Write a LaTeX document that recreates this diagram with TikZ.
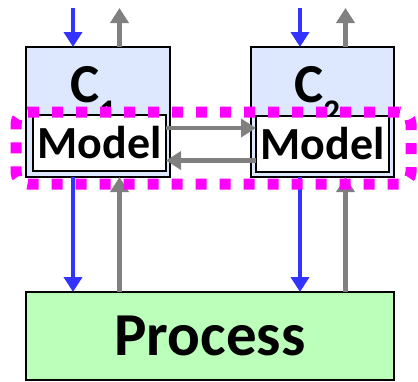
\documentclass[tikz,border=0pt]{standalone}
\usepackage{fontspec}
\setmainfont{Carlito}
\usetikzlibrary{arrows.meta}
\definecolor{ctrlfill}{HTML}{DDE8FF}
\definecolor{procfill}{HTML}{BBFFBB}
\definecolor{sigblue}{HTML}{3333FF}
\definecolor{siggray}{HTML}{808080}
\definecolor{grpmagenta}{HTML}{FF00FF}
\begin{document}
\begin{tikzpicture}[x=1pt,y=-1pt,
  box/.style={draw=black,line width=2pt,inner sep=0pt,outer sep=0pt},
  ctrl/.style={box,fill=ctrlfill,minimum width=144pt,minimum height=130pt},
  modelbox/.style={box,fill=white,minimum width=133pt,minimum height=56pt,
    font=\bfseries\fontsize{46}{46}\selectfont},
  procbox/.style={box,fill=procfill,minimum width=368pt,minimum height=88pt,
    font=\bfseries\fontsize{61}{61}\selectfont},
  ctrllabel/.style={anchor=base west,inner sep=0pt,
    font=\bfseries\fontsize{55}{55}\selectfont},
  flow/.style={line width=4.5pt,-{Triangle[length=15pt,width=18pt]}},
  cmd/.style={flow,draw=sigblue,fill=sigblue},
  meas/.style={flow,draw=siggray,fill=siggray},
  group/.style={draw=grpmagenta,line width=11pt,dash pattern=on 11pt off 13pt,
    rounded corners=12pt,minimum width=395pt,minimum height=72pt,inner sep=0pt}]
\useasboundingbox (0,0) rectangle (418,381);

% controllers
\node[ctrl] (C1) at (98,112) {};
\node[ctrl,minimum width=143pt] (C2) at (322.5,112) {};
\node[ctrllabel] (L1) at (70,102) {C\raisebox{-20pt}{\fontsize{33}{33}\selectfont 1}};
\node[ctrllabel] (L2) at (294,102) {C\raisebox{-20pt}{\fontsize{33}{33}\selectfont 2}};

% models inside the controllers
\node[modelbox] (M1) at (99.5,143) {Model};
\node[modelbox] (M2) at (322.5,143.5) {Model};

% process
\node[procbox] (P) at (210,336) {Process};

% signal columns
\coordinate (a1) at (73,8);
\coordinate (b1) at (119.5,8);
\coordinate (a2) at (300,8);
\coordinate (b2) at (345.5,8);

% external set points and outputs
\draw[cmd]  (a1) -- (a1 |- C1.north);
\draw[meas] (b1 |- C1.north) -- (b1);
\draw[cmd]  (a2) -- (a2 |- C2.north);
\draw[meas] (b2 |- C2.north) -- (b2);

% controller <-> process
\draw[cmd]  (a1 |- C1.south) -- (a1 |- P.north);
\draw[meas] (b1 |- P.north) -- (b1 |- C1.south);
\draw[cmd]  (a2 |- C2.south) -- (a2 |- P.north);
\draw[meas] (b2 |- P.north) -- (b2 |- C2.south);

% model exchange
\draw[meas] ([yshift=15pt]M1.east) -- ([yshift=15pt]M1.east -| M2.west);
\draw[meas] ([yshift=-17pt]M2.west) -- ([yshift=-17pt]M2.west -| M1.east);

% shared model group
\node[group] (G) at (213.5,148) {};
\end{tikzpicture}
\end{document}
